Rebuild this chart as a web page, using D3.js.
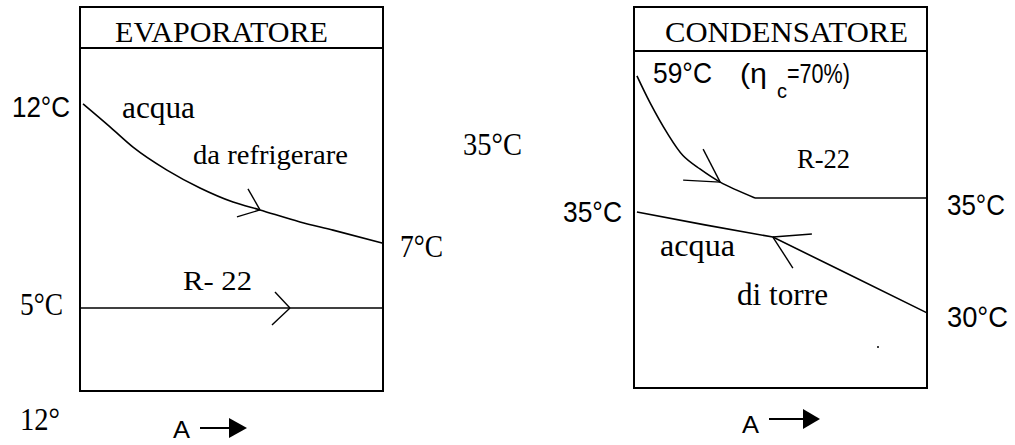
<!DOCTYPE html>
<html lang="it">
  <head>
    <meta charset="UTF-8" />
    <title>Evaporatore / Condensatore</title>
    <script src="https://cdn.jsdelivr.net/npm/d3@7"></script>
    <style>
      body { margin: 0; background: #fff; }
      .serif { font-family: "Liberation Serif", "DejaVu Serif", serif; }
      .sans { font-family: "Liberation Sans", Arial, sans-serif; }
    </style>
  </head>
  <body>
    <script>
      // x = fraction along the exchanger (0..1), h = height in the plot box (0 bottom .. 100 top)
      const evapWater = [
        [0.01, 83.7], [0.099, 77.0], [0.175, 71.1], [0.287, 64.4], [0.396, 59.2],
        [0.505, 55.1], [0.594, 52.8], [0.726, 49.3], [0.835, 46.9], [1.0, 43.1]
      ];
      const evapR22 = [[0, 24.2], [1, 24.2]];
      const condR22 = [
        [0.01, 92.6], [0.055, 84.6], [0.113, 75.7], [0.167, 69.0], [0.225, 65.0],
        [0.294, 61.1], [0.413, 56.4], [1.0, 56.4]
      ];
      const condWater = [[0.01, 52.2], [0.242, 48.4], [0.474, 44.8], [0.703, 35.0], [1.0, 22.3]];

      const titles = ["EVAPORATORE", "CONDENSATORE"];
      const evapTemps = ["12°C", "7°C", "5°C"];
      const condTemps = ["59°C", "35°C", "35°C", "30°C"];

      const width = 1015;
      const height = 445;
      const svg = d3.select("body").append("svg")
        .attr("width", width)
        .attr("height", height);

      const xL = d3.scaleLinear().domain([0, 1]).range([80, 383]);
      const yL = d3.scaleLinear().domain([0, 100]).range([391, 48]);
      const xR = d3.scaleLinear().domain([0, 1]).range([634, 927]);
      const yR = d3.scaleLinear().domain([0, 100]).range([388, 51]);

      // frames
      function frame(x, y, titleY) {
        svg.append("rect")
          .attr("x", x.range()[0]).attr("y", 7)
          .attr("width", x.range()[1] - x.range()[0])
          .attr("height", y.range()[0] - 7)
          .attr("fill", "none").attr("stroke", "#000").attr("stroke-width", 2);
        svg.append("line")
          .attr("x1", x.range()[0]).attr("x2", x.range()[1])
          .attr("y1", titleY).attr("y2", titleY)
          .attr("stroke", "#000").attr("stroke-width", 2);
      }
      frame(xL, yL, 48);
      frame(xR, yR, 51);

      function series(data, x, y, curve) {
        const line = d3.line()
          .x((d) => x(d[0]))
          .y((d) => y(d[1]))
          .curve(curve);
        svg.append("path")
          .datum(data)
          .attr("fill", "none")
          .attr("stroke", "#000")
          .attr("stroke-width", 1.6)
          .attr("d", line);
      }
      series(evapWater, xL, yL, d3.curveMonotoneX);
      series(evapR22, xL, yL, d3.curveLinear);
      series(condR22.slice(0, 7), xR, yR, d3.curveCatmullRom.alpha(0.5));
      series(condR22.slice(6), xR, yR, d3.curveLinear);
      series(condWater, xR, yR, d3.curveLinear);

      // hand drawn flow arrows, tip on a series point
      function chevron(px, py, arms) {
        arms.forEach((a) => {
          svg.append("line")
            .attr("x1", px).attr("y1", py)
            .attr("x2", px + a[0]).attr("y2", py + a[1])
            .attr("stroke", "#000").attr("stroke-width", 1.4);
        });
      }
      chevron(xL(evapWater[6][0]), yL(evapWater[6][1]), [[-12, -21], [-23, 7]]);
      chevron(xL(0.693), yL(evapR22[0][1]), [[-15, -16], [-18, 17]]);
      chevron(xR(condR22[5][0]), yR(condR22[5][1]), [[-17, -33], [-37, -2]]);
      chevron(xR(condWater[2][0]), yR(condWater[2][1]), [[39, -3], [20, 31]]);

      function label(txt, x, y, len, cls, size) {
        return svg.append("text")
          .attr("class", cls)
          .attr("x", x).attr("y", y)
          .attr("font-size", size)
          .attr("textLength", len)
          .attr("lengthAdjust", "spacingAndGlyphs")
          .attr("fill", "#000")
          .text(txt);
      }

      // titles
      label(titles[0], 115, 42, 213, "serif", 29);
      label(titles[1], 665, 42, 243, "serif", 29);

      // evaporatore texts
      label(evapTemps[0], 12, 117, 58, "sans", 29);
      label(evapTemps[1], 400, 257, 43, "serif", 31);
      label(evapTemps[2], 20, 315, 43, "serif", 31);
      label("acqua", 122, 118, 73, "serif", 32);
      label("da refrigerare", 193, 164, 155, "serif", 28);
      label("R- 22", 183, 290, 69, "serif", 28);
      label("12°", 20, 430, 40, "serif", 31);
      label("35°C", 463, 155, 59, "serif", 31);

      // condensatore texts
      label(condTemps[0], 653, 83, 59, "sans", 29);
      label("(η", 740, 83, 27, "sans", 27);
      label("c", 777, 98, 10, "sans", 20);
      label("=70%)", 787, 83, 63, "sans", 28);
      label("R-22", 797, 168, 53, "serif", 28);
      label(condTemps[1], 563, 222, 59, "sans", 29);
      label(condTemps[2], 947, 215, 58, "sans", 29);
      label(condTemps[3], 947, 327, 61, "sans", 29);
      label("acqua", 660, 256, 75, "serif", 32);
      label("di torre", 737, 305, 91, "serif", 31);

      // A --> flow direction marks
      function flowMark(ax, ay, lx0, lx1, hx1, cy, hh) {
        label("A", ax, ay, 17, "sans", 24);
        svg.append("line")
          .attr("x1", lx0).attr("x2", lx1)
          .attr("y1", cy).attr("y2", cy)
          .attr("stroke", "#000").attr("stroke-width", 2);
        svg.append("path")
          .attr("d", `M${lx1},${cy - hh}L${hx1},${cy}L${lx1},${cy + hh}Z`)
          .attr("fill", "#000");
      }
      flowMark(173, 438, 200, 229, 247, 428, 10);
      flowMark(742, 433, 769, 803, 820, 419, 10);

      svg.append("circle").attr("cx", 878).attr("cy", 347).attr("r", 1).attr("fill", "#000");
    </script>
  </body>
</html>
